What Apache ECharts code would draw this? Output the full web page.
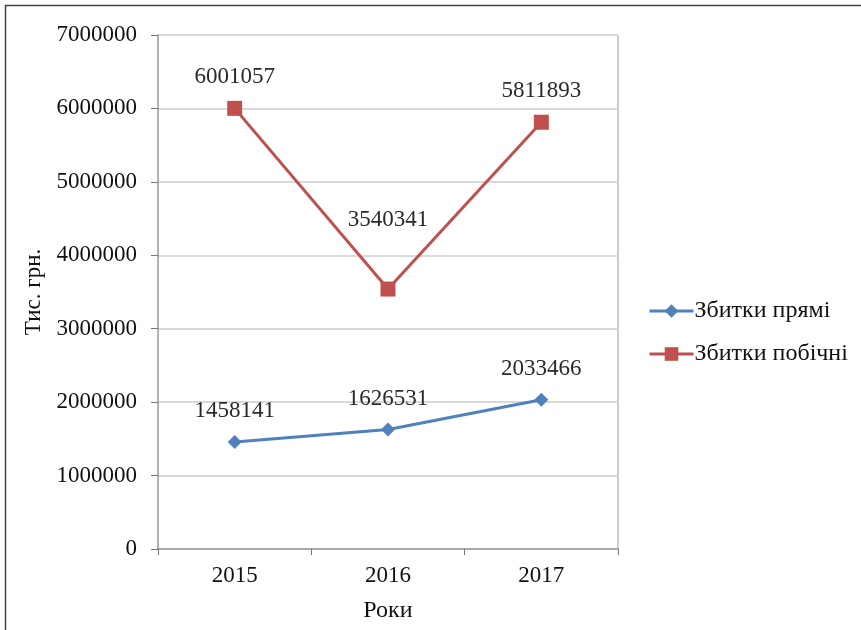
<!DOCTYPE html>
<html>
<head>
<meta charset="utf-8">
<script src="https://cdn.jsdelivr.net/npm/echarts@6/dist/echarts.min.js"></script>
<style>
  html, body { margin: 0; padding: 0; background: #fff; }
  #chart { width: 861px; height: 630px; }
</style>
</head>
<body>
<div id="chart"></div>
<script>
// дані з рисунка
var years = ["2015", "2016", "2017"];
var direct = [1458141, 1626531, 2033466];
var indirect = [6001057, 3540341, 5811893];
var seriesNames = ["Збитки прямі", "Збитки побічні"];
var yTicks = [0, 1000000, 2000000, 3000000, 4000000, 5000000, 6000000, 7000000];

var font = "Liberation Serif, Times New Roman, serif";
var chart = echarts.init(document.getElementById("chart"));

var labelStyle = {
  show: true,
  position: "top",
  distance: 12,
  fontFamily: font,
  fontSize: 23,
  color: "#2a2a2a"
};

chart.setOption({
  animation: false,
  graphic: [{
    type: "rect",
    shape: { x: 5.5, y: 5.5, width: 900, height: 700 },
    style: { fill: "none", stroke: "#444", lineWidth: 1.5 }
  }, {
    type: "line",
    shape: { x1: 618, y1: 35, x2: 618, y2: 549 },
    style: { stroke: "#bbb", lineWidth: 1.5 }
  }],
  grid: { left: 158, right: 243, top: 35, bottom: 81 },
  legend: {
    orient: "vertical",
    left: 643,
    top: 294,
    itemGap: 19,
    itemWidth: 44,
    itemHeight: 17,
    lineStyle: { width: 3 },
    textStyle: { fontFamily: font, fontSize: 24, color: "#111", padding: [0, 0, 0, -4] },
    data: seriesNames
  },
  xAxis: {
    type: "category",
    data: years,
    boundaryGap: true,
    name: "Роки",
    nameLocation: "middle",
    nameGap: 50,
    nameTextStyle: { fontFamily: font, fontSize: 24, color: "#111" },
    axisLine: { lineStyle: { color: "#999", width: 1.5 } },
    axisTick: { show: true, length: 6, lineStyle: { color: "#777" } },
    axisLabel: { fontFamily: font, fontSize: 23, color: "#111", margin: 15 }
  },
  yAxis: {
    type: "value",
    min: yTicks[0],
    max: yTicks[yTicks.length - 1],
    interval: yTicks[1] - yTicks[0],
    name: "Тис. грн.",
    nameLocation: "middle",
    nameGap: 113,
    nameRotate: 90,
    nameTextStyle: { fontFamily: font, fontSize: 23, color: "#111" },
    axisLine: { show: true, lineStyle: { color: "#999", width: 1.5 } },
    axisTick: { show: true, length: 7, lineStyle: { color: "#777" } },
    axisLabel: {
      fontFamily: font, fontSize: 23, color: "#111", margin: 21,
      formatter: function (v) { return String(v); }
    },
    splitLine: { show: true, lineStyle: { color: "#d9d9d9", width: 2 } }
  },
  series: [
    {
      name: seriesNames[0],
      type: "line",
      data: direct,
      symbol: "diamond",
      symbolSize: 14,
      itemStyle: { color: "#4F81BD" },
      lineStyle: { color: "#4F81BD", width: 3 },
      label: labelStyle
    },
    {
      name: seriesNames[1],
      type: "line",
      data: indirect.map(function (v, i) {
        if (i === 1) {
          return { value: v, label: { distance: 50 } };
        }
        return v;
      }),
      symbol: "rect",
      symbolSize: 15,
      itemStyle: { color: "#C0504D" },
      lineStyle: { color: "#C0504D", width: 3 },
      label: labelStyle
    }
  ]
});
</script>
</body>
</html>
